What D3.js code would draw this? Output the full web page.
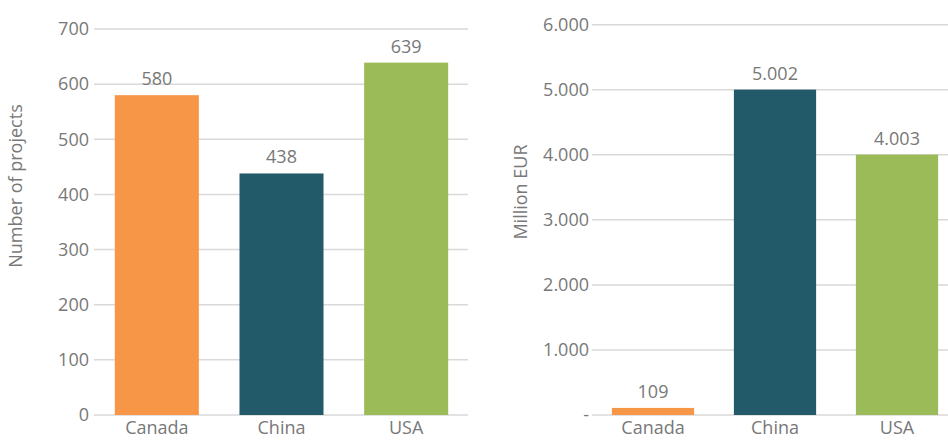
<!DOCTYPE html>
<html>
<head>
<meta charset="utf-8">
<script src="https://cdn.jsdelivr.net/npm/d3@7"></script>
<style>
  body { margin: 0; background: #fff; }
  svg text { font-family: "Open Sans", sans-serif; fill: #787878; }
</style>
</head>
<body>
<svg id="drawing_region"></svg>
<script>
const categories = ['Canada', 'China', 'USA'];
const projects = [580, 438, 639];
const funding = [109, 5002, 4003];
const projectTicks = [0, 100, 200, 300, 400, 500, 600, 700];
const fundingTicks = [0, 1000, 2000, 3000, 4000, 5000, 6000];
const colors = ['#F79646', '#235A69', '#9BBB59'];

const svg = d3.select('#drawing_region')
    .attr('width', 948)
    .attr('height', 440);

const dotFmt = v => d3.format(',')(v).replace(/,/g, '.');

function barChart( config ) {
    const x = d3.scaleBand()
        .domain(categories)
        .range([config.x0, config.x1])
        .paddingInner(0.326)
        .paddingOuter(0.163);

    const y = d3.scaleLinear()
        .domain([0, d3.max(config.ticks)])
        .range([config.y0, config.y1]);

    const g = svg.append('g');

    // gridlines
    g.selectAll('line.grid')
        .data(config.ticks)
        .join('line')
        .attr('x1', config.gridStart)
        .attr('x2', config.gridEnd)
        .attr('y1', d => y(d))
        .attr('y2', d => y(d))
        .attr('stroke', '#d9d9d9')
        .attr('stroke-width', 1.5);

    // y axis labels
    const yaxis = d3.axisLeft(y)
        .tickValues(config.ticks)
        .tickSize(0)
        .tickPadding(0)
        .tickFormat(config.tickFormat);
    const ya = g.append('g')
        .attr('transform', `translate(${config.labelX}, 0)`)
        .call(yaxis);
    ya.select('.domain').remove();
    ya.selectAll('text')
        .attr('font-size', 18)
        .attr('fill', '#787878')
        .style('font-family', '"Open Sans", sans-serif');

    // bars
    g.selectAll('rect')
        .data(config.values)
        .join('rect')
        .attr('x', (d, i) => x(categories[i]))
        .attr('width', x.bandwidth())
        .attr('y', d => y(d))
        .attr('height', d => y(0) - y(d))
        .attr('fill', (d, i) => colors[i]);

    // value labels
    g.selectAll('text.val')
        .data(config.values)
        .join('text')
        .attr('class', 'val')
        .attr('x', (d, i) => x(categories[i]) + x.bandwidth() / 2)
        .attr('y', d => y(d) - 10)
        .attr('text-anchor', 'middle')
        .attr('font-size', 18)
        .text(d => dotFmt(d));

    // x axis
    const xaxis = d3.axisBottom(x).tickSize(0).tickPadding(0);
    const xa = g.append('g')
        .attr('transform', `translate(0, ${config.y0})`)
        .call(xaxis);
    xa.select('.domain').remove();
    xa.selectAll('text')
        .attr('dy', null)
        .attr('y', 19)
        .attr('font-size', 18)
        .attr('fill', '#787878')
        .style('font-family', '"Open Sans", sans-serif');

    // axis title
    g.append('text')
        .attr('transform', `translate(${config.titleX}, ${config.titleY}) rotate(-90)`)
        .attr('text-anchor', 'middle')
        .attr('font-size', 18)
        .text(config.title);
}

barChart({
    values: projects, ticks: projectTicks,
    x0: 94.5, x1: 468.5, gridStart: 94, gridEnd: 468,
    y0: 415, y1: 29, labelX: 89,
    tickFormat: d => d,
    title: 'Number of projects', titleX: 22, titleY: 186
});

barChart({
    values: funding, ticks: fundingTicks,
    x0: 592, x1: 958, gridStart: 592, gridEnd: 948,
    y0: 415, y1: 24.7, labelX: 589,
    tickFormat: d => d === 0 ? '-   ' : dotFmt(d),
    title: 'Million EUR', titleX: 527, titleY: 192
});
</script>
</body>
</html>
